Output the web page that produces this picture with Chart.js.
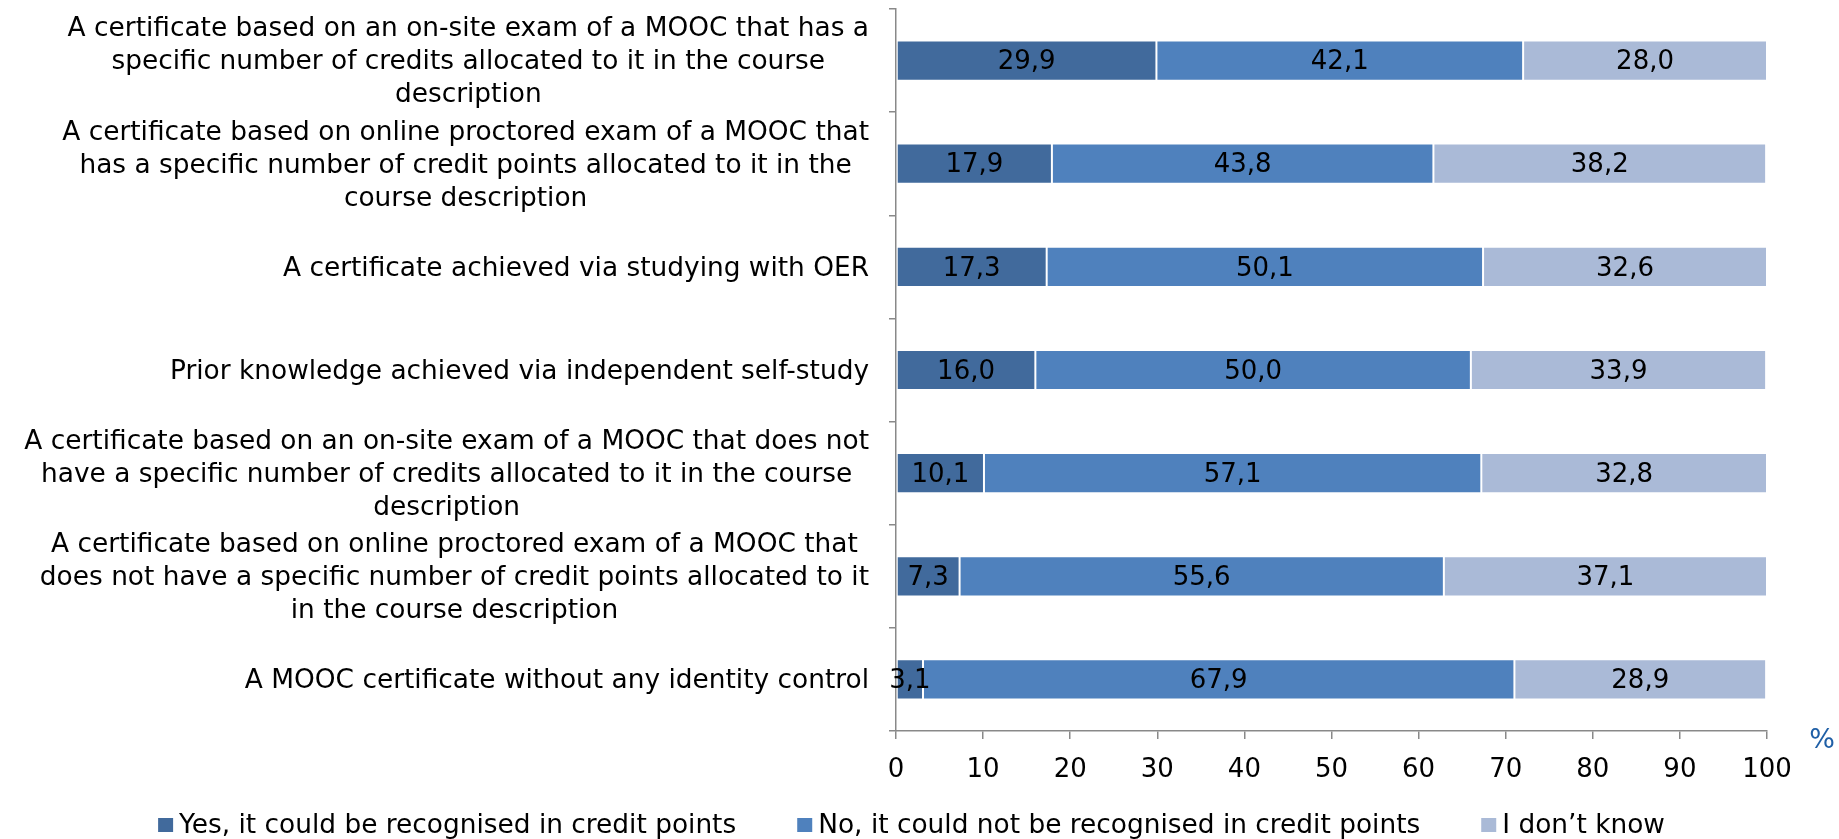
<!DOCTYPE html>
<html>
<head>
<meta charset="utf-8">
<script src="https://cdn.jsdelivr.net/npm/chart.js"></script>
<style>
  body { margin: 0; background: #fff; }
</style>
</head>
<body>
<canvas id="chart" width="1839" height="839"></canvas>
<script>
// categories, one array of lines per bar (top to bottom)
const categories = [
  ['A certificate based on an on-site exam of a MOOC that has a', 'specific number of credits allocated to it in the course', 'description'],
  ['A certificate based on online proctored exam of a MOOC that', 'has a specific number of credit points allocated to it in the', 'course description'],
  ['A certificate achieved via studying with OER'],
  ['Prior knowledge achieved via independent self-study'],
  ['A certificate based on an on-site exam of a MOOC that does not', 'have a specific number of credits allocated to it in the course', 'description'],
  ['A certificate based on online proctored exam of a MOOC that', 'does not have a specific number of credit points allocated to it', 'in the course description'],
  ['A MOOC certificate without any identity control']
];

const yesValues      = [29.9, 17.9, 17.3, 16.0, 10.1, 7.3, 3.1];
const noValues       = [42.1, 43.8, 50.1, 50.0, 57.1, 55.6, 67.9];
const dontKnowValues = [28.0, 38.2, 32.6, 33.9, 32.8, 37.1, 28.9];

const seriesNames = [
  'Yes, it could be recognised in credit points',
  'No, it could not be recognised in credit points',
  'I don\u2019t know'
];
const seriesColors = ['#416A9C', '#4F81BD', '#AABAD7'];

const FAMILY = '"DejaVu Sans", Verdana, sans-serif';
const FONT = '26px ' + FAMILY;        // numbers
const TEXT_FONT = '26.4px ' + FAMILY; // category + legend text

// category labels: each label block right-aligned to the axis, its lines centred
const yLabels = {
  id: 'yLabels',
  afterDraw(chart) {
    const ctx = chart.ctx, ys = chart.scales.y, area = chart.chartArea;
    ctx.save();
    ctx.font = TEXT_FONT;
    ctx.fillStyle = '#000';
    ctx.textAlign = 'center';
    ctx.textBaseline = 'middle';
    categories.forEach((lines, i) => {
      const cy = ys.getPixelForTick(i) + 2;
      const w = Math.max(...lines.map(l => ctx.measureText(l).width));
      const cx = area.left - 27 - w / 2;
      lines.forEach((l, j) => ctx.fillText(l, cx, cy + (j - (lines.length - 1) / 2) * 33));
    });
    ctx.restore();
  }
};

// values in the middle of each segment, decimal comma
const valueLabels = {
  id: 'valueLabels',
  afterDatasetsDraw(chart) {
    const ctx = chart.ctx;
    ctx.save();
    ctx.font = FONT;
    ctx.fillStyle = '#000';
    ctx.textAlign = 'center';
    ctx.textBaseline = 'middle';
    chart.data.datasets.forEach((ds, di) => {
      chart.getDatasetMeta(di).data.forEach((bar, i) => {
        const p = bar.getCenterPoint();
        ctx.fillText(ds.data[i].toFixed(1).replace('.', ','), p.x, p.y + 2);
      });
    });
    ctx.restore();
  }
};

// "%" unit at the end of the x axis + legend along the bottom
const extras = {
  id: 'extras',
  afterDraw(chart) {
    const ctx = chart.ctx, area = chart.chartArea;
    ctx.save();
    ctx.font = '27px ' + FAMILY;
    ctx.fillStyle = '#1F5FA6';
    ctx.textAlign = 'center';
    ctx.textBaseline = 'middle';
    ctx.fillText('%', area.right + 55, area.bottom + 10);

    ctx.font = TEXT_FONT;
    ctx.textAlign = 'left';
    const gap = 61, boxW = 15, boxH = 14, textOff = 21;
    const widths = seriesNames.map(n => ctx.measureText(n).width);
    const total = widths.reduce((a, w) => a + textOff + w, 0) + gap * (seriesNames.length - 1);
    let x = (chart.width - total) / 2 - 8;
    const y = 825;
    seriesNames.forEach((n, i) => {
      ctx.fillStyle = seriesColors[i];
      ctx.fillRect(x, y - boxH / 2, boxW, boxH);
      ctx.fillStyle = '#000';
      ctx.fillText(n, x + textOff, y + 1);
      x += textOff + widths[i] + gap;
    });
    ctx.restore();
  }
};

const makeSet = (label, data, color) => ({
  label, data,
  backgroundColor: color,
  borderColor: 'rgba(255,255,255,0.35)',
  borderWidth: 1,
  borderSkipped: false,
  barPercentage: 0.39,
  categoryPercentage: 1
});

new Chart(document.getElementById('chart'), {
  type: 'bar',
  data: {
    labels: categories.map(l => l.join(' ')),
    datasets: [
      makeSet(seriesNames[0], yesValues, seriesColors[0]),
      makeSet(seriesNames[1], noValues, seriesColors[1]),
      makeSet(seriesNames[2], dontKnowValues, seriesColors[2])
    ]
  },
  options: {
    indexAxis: 'y',
    responsive: false,
    animation: false,
    devicePixelRatio: 1,
    layout: { padding: { top: 9, right: 72, bottom: 50, left: 0 } },
    plugins: { legend: { display: false }, tooltip: { enabled: false } },
    scales: {
      x: {
        stacked: true,
        min: 0, max: 100,
        ticks: { stepSize: 10, color: '#000', font: { family: FAMILY, size: 26 }, padding: 16 },
        grid: { drawOnChartArea: false, tickLength: 8, color: '#898989', lineWidth: 1.5 },
        border: { color: '#898989', width: 1.5 },
        afterFit(s) { s.height = 58; }
      },
      y: {
        stacked: true,
        ticks: { display: false },
        grid: { offset: true, drawOnChartArea: false, tickLength: 7, color: '#898989', lineWidth: 1.5 },
        border: { color: '#898989', width: 1.5 },
        afterFit(s) { s.width = 896; }
      }
    }
  },
  plugins: [yLabels, valueLabels, extras]
});
</script>
</body>
</html>
